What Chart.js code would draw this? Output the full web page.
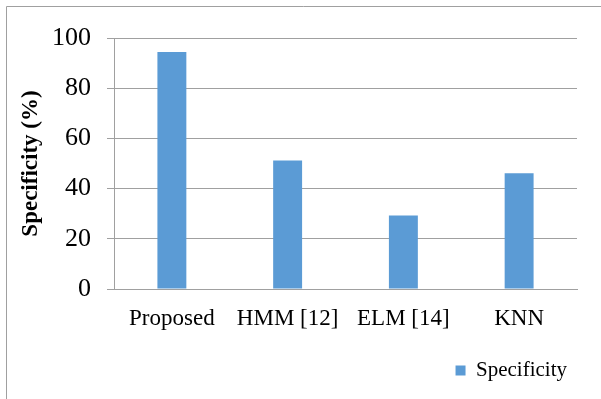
<!DOCTYPE html>
<html>
<head>
<meta charset="utf-8">
<script src="https://cdn.jsdelivr.net/npm/chart.js@4"></script>
<style>
  html, body { margin: 0; padding: 0; background: #fff; }
  #wrap { width: 601px; height: 399px; position: relative; }
</style>
</head>
<body>
<div id="wrap"><canvas id="myChart" width="601" height="399"></canvas></div>
<script>
const categories = ['Proposed', 'HMM [12]', 'ELM [14]', 'KNN'];
const specificity = [94.4, 51.2, 29.3, 46.1];
const yTicks = [0, 20, 40, 60, 80, 100];

const serif = "'Liberation Serif', 'Times New Roman', serif";
const gridGray = '#a0a0a0';

// thin frame along the top and left edges of the figure
const frame = {
    id: 'frame',
    afterDraw(chart) {
        const c = chart.ctx;
        c.save();
        c.strokeStyle = '#a0a0a0';
        c.lineWidth = 1;
        c.beginPath();
        c.moveTo(6.5, chart.height);
        c.lineTo(6.5, 6.5);
        c.lineTo(chart.width, 6.5);
        c.stroke();
        c.restore();
    }
};

const ctx = document.getElementById('myChart');

const myChart = new Chart(ctx, {
    type: 'bar',
    data: {
        labels: categories,
        datasets: [
            {
                label: 'Specificity',
                data: specificity,
                backgroundColor: '#5b9bd5',
                borderWidth: 0,
                categoryPercentage: 1,
                barPercentage: 0.25,
            },
        ]
    },
    plugins: [frame],
    options: {
        responsive: false,
        animation: false,
        layout: { padding: { top: 38, right: 24, left: 0, bottom: 8 } },
        plugins: {
            tooltip: { enabled: false },
            legend: {
                position: 'bottom',
                align: 'end',
                labels: {
                    font: { family: serif, size: 21 },
                    color: '#000',
                    boxWidth: 10,
                    boxHeight: 10,
                    padding: 10,
                }
            }
        },
        scales: {
            x: {
                grid: { display: false },
                border: { color: gridGray, width: 1 },
                ticks: {
                    font: { family: serif, size: 23 },
                    color: '#000',
                    padding: 8,
                    maxRotation: 0,
                },
                afterFit(scale) { scale.height = 61; }
            },
            y: {
                min: 0,
                max: 100,
                afterBuildTicks(scale) {
                    scale.ticks = yTicks.map(v => ({ value: v }));
                },
                grid: {
                    color: gridGray,
                    tickLength: 7,
                    tickColor: gridGray,
                },
                border: { color: gridGray, width: 1 },
                ticks: {
                    font: { family: serif, size: 26 },
                    color: '#000',
                    padding: 16,
                },
                title: {
                    display: true,
                    text: 'Specificity (%)',
                    font: { family: serif, size: 23, weight: 'bold' },
                    color: '#000',
                    padding: { top: 17, bottom: 0 },
                },
                afterFit(scale) { scale.width = 114; }
            }
        }
    }
});
</script>
</body>
</html>
